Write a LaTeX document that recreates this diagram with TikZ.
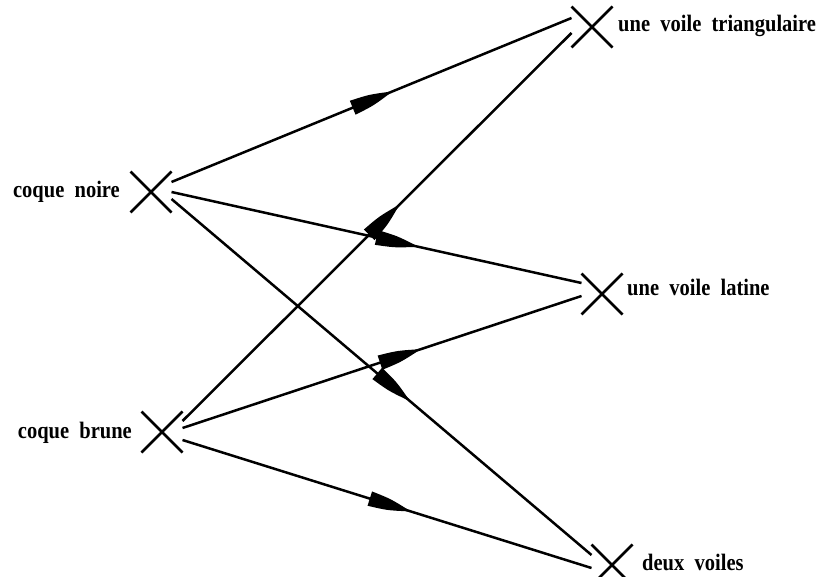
\documentclass[tikz,border=0pt]{standalone}
\usepackage{fontspec}
\usepackage{graphicx}
\setmainfont{Liberation Serif}
\usetikzlibrary{shapes.misc,decorations.markings}
\newcommand\mylab[1]{\scalebox{1}[1.15]{#1}}
\tikzset{
  xmark/.style={cross out,draw,line width=2.8pt,minimum size=29pt,inner sep=0pt,outer sep=6pt},
  lab/.style={font=\fontsize{20.5}{22}\selectfont\bfseries,inner sep=0pt},
  conn/.style={line width=2.5pt,postaction={decorate},
    decoration={markings,mark=at position #1 with {\fill (0pt,-7.5pt) .. controls (20pt,-6pt) .. (40pt,-0.8pt) -- (40pt,0.8pt) .. controls (20pt,6pt) .. (0pt,7.5pt) -- cycle;}}}
}
\begin{document}
\begin{tikzpicture}[x=1pt,y=-1pt]
\useasboundingbox (0,0) rectangle (821,577);
\fill[white] (0,0) rectangle (821,577);
% crosses
\node[xmark] (cn) at (151,192) {};
\node[xmark] (cb) at (162,432) {};
\node[xmark] (vt) at (592,27) {};
\node[xmark] (vl) at (602,294) {};
\node[xmark] (dv) at (612,565) {};
% labels
\node[lab,anchor=base east] (lcn) at (120,198) {\mylab{coque\ \ noire}};
\node[lab,anchor=base east] (lcb) at (132,438) {\mylab{coque\ \ brune}};
\node[lab,anchor=base west] (lvt) at (618,32) {\mylab{une\ \ voile\ \ triangulaire}};
\node[lab,anchor=base west] (lvl) at (627,295) {\mylab{une\ \ voile\ \ latine}};
\node[lab,anchor=base west] (ldv) at (642,570) {\mylab{deux\ \ voiles}};
% connectors
\draw[conn=0.453] ([yshift=10pt]cn.east) -- ([yshift=9pt]vt.west);
\draw[conn=0.50] (cn.east) -- ([yshift=11pt]vl.west);
\draw[conn=0.49] ([yshift=-7pt]cn.east) -- ([yshift=10pt]dv.west);
\draw[conn=0.48] ([yshift=11pt]cb.east) -- ([yshift=-6pt]vt.west);
\draw[conn=0.495] ([yshift=4pt]cb.east) -- ([yshift=-2pt]vl.west);
\draw[conn=0.458] ([yshift=-8pt]cb.east) -- ([yshift=-3pt]dv.west);
\end{tikzpicture}
\end{document}
